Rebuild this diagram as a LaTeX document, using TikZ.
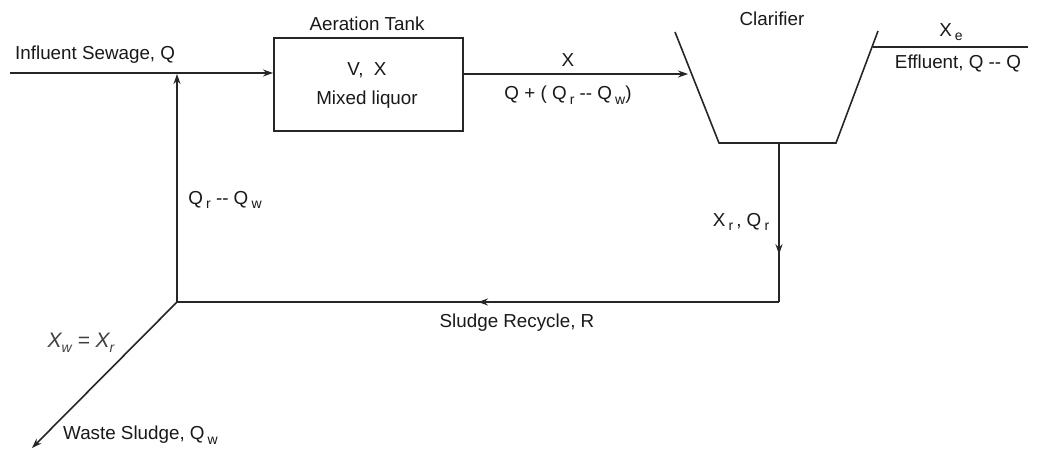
\documentclass[tikz,border=0pt]{standalone}
\usepackage{fontspec}
\setmainfont{Liberation Sans}
\usetikzlibrary{arrows.meta,decorations.markings}
\newcommand{\sbs}[1]{\raisebox{-0.45ex}{\fontsize{14}{14}\selectfont #1}}
\begin{document}
\begin{tikzpicture}[x=1pt,y=-1pt,
  line/.style={line width=1.6pt, draw=black!85},
  arr/.style={-{Stealth[length=10pt,width=7pt]}},
  lbl/.style={font=\fontsize{18.8}{22}\selectfont, inner sep=0pt, text=black!90},
  midarrow/.style={postaction={decorate},decoration={markings,mark=at position #1 with {\arrow{Stealth[length=10pt,width=7pt]}}}}]
\useasboundingbox (0,0) rectangle (1059,476);
\fill[white] (0,0) rectangle (1059,476);
% aeration tank
\node[draw=black!85, line width=1.6pt, minimum width=189pt, minimum height=93pt, anchor=north west, inner sep=0pt] (tank) at (273,37) {};
% clarifier
\coordinate (ctl) at (675,32);
\coordinate (cbl) at (719,143);
\coordinate (cbr) at (836,143);
\coordinate (ctr) at (878,31);
\draw[line] (ctl) -- (cbl) -- (cbr) -- (ctr);
% flow coordinates
\coordinate (in) at (10,73);
\coordinate (junc) at (177,74);
\coordinate (clin) at (688,74);
\coordinate (effs) at (873,47);
\coordinate (effe) at (1028,47);
\coordinate (outtop) at (779,143);
\coordinate (rc) at (779,302);
\coordinate (lc) at (177,302);
\coordinate (waste) at (32,448);
% connectors
\draw[line,arr] (in) -- (tank.west |- in);
\draw[line,arr] (tank.east |- clin) -- (clin);
\draw[line] (effs) -- (effe);
\draw[line,midarrow=0.7] (outtop) -- (rc);
\draw[line,midarrow=0.5] (rc) -- (lc);
\draw[line,arr] (lc) -- (junc);
\draw[line,arr] (lc) -- (waste);
% labels
\node[lbl, anchor=west] (linf) at (15,55) {Influent Sewage, Q};
\node[lbl] (ltank) at (367,24) {Aeration Tank};
\node[lbl] (lvx) at (367,70) {V,\ \ X};
\node[lbl] (lmix) at (367,100) {Mixed liquor};
\node[lbl] (lx) at (568,60) {X};
\node[lbl] (lq) at (568,95) {Q + ( Q\,\sbs{r} -{}- Q\,\sbs{w})};
\node[lbl] (lclar) at (772,19) {Clarifier};
\node[lbl] (lxe) at (951,32) {X\,\sbs{e}};
\node[lbl] (leff) at (958,63) {Effluent, Q -{}- Q};
\node[lbl] (lqrw) at (225,200) {Q\,\sbs{r} -{}- Q\,\sbs{w}};
\node[lbl] (lxr) at (741,222) {X\,\sbs{r}\,, Q\,\sbs{r}};
\node[lbl] (lrec) at (517,323) {Sludge Recycle, R};
\node[lbl, text=black!75, font=\fontsize{21}{24}\selectfont\itshape] (lxw) at (81,343) {X\sbs{\itshape w} = X\sbs{\itshape r}};
\node[lbl, anchor=west] (lwaste) at (63,435) {Waste Sludge, Q\,\sbs{w}};
\end{tikzpicture}
\end{document}
